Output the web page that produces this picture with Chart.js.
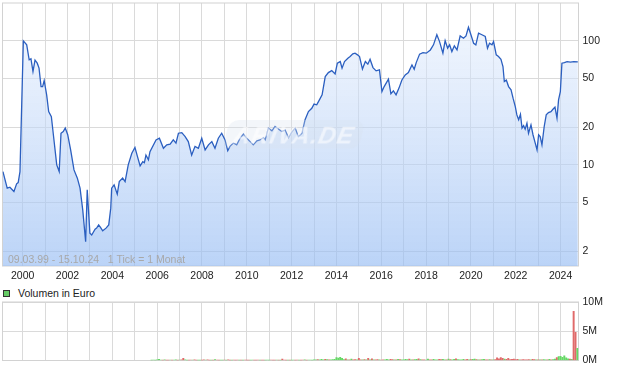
<!DOCTYPE html>
<html>
<head>
<meta charset="utf-8">
<script src="https://cdn.jsdelivr.net/npm/chart.js@4.4.1/dist/chart.umd.min.js"></script>
<style>
    body { margin: 0; background: #fff; font-family: Arial, "Liberation Sans", sans-serif; }
    #wrap { position: relative; width: 620px; height: 371px; overflow: hidden; }
    #kurs { position: absolute; left: 0; top: 0; }
    #vol { position: absolute; left: 0; top: 295px; }
    .range { position: absolute; left: 8px; top: 253px; font-size: 10.5px; line-height: 12px; color: #a8a8a8; white-space: pre; }
    .legend { position: absolute; left: 3px; top: 287px; font-size: 10.5px; line-height: 12px; color: #222; white-space: pre; }
    .legend span { display: inline-block; width: 5px; height: 5px; background: #66cc66; border: 1px solid #333; margin-right: 8px; vertical-align: 0px; }
    .wm { position: absolute; left: 226px; top: 120px; width: 136px; height: 29px; border-radius: 10px;
          background: rgba(215, 225, 240, 0.3); transform: skewX(-12deg);
          font: italic bold 24px Arial, "Liberation Sans", sans-serif; line-height: 29px; text-align: center;
          color: rgba(255, 255, 255, 0.55); letter-spacing: 1px; }
</style>
</head>
<body>
<div id="wrap">
    <canvas id="kurs" width="620" height="285"></canvas>
    <div class="wm">ARIVA.DE</div>
    <div class="range">09.03.99 - 15.10.24   1 Tick = 1 Monat</div>
    <div class="legend"><span></span>Volumen in Euro</div>
    <canvas id="vol" width="620" height="76"></canvas>
</div>
<script>
// Kursverlauf (Dezimaljahr / Kurs in Euro)
const priceYears = [
    1999.12, 1999.31, 1999.43, 1999.61, 1999.73, 1999.80, 1999.88,
    2000.03, 2000.18, 2000.29, 2000.37, 2000.46, 2000.55, 2000.65, 2000.73, 2000.82, 2000.89, 2000.96,
    2001.07, 2001.16, 2001.28, 2001.37, 2001.52, 2001.63, 2001.71, 2001.81, 2001.90,
    2002.01, 2002.14, 2002.29, 2002.44, 2002.56, 2002.68, 2002.81, 2002.88,
    2003.00, 2003.08, 2003.23, 2003.30, 2003.39, 2003.48, 2003.57, 2003.72, 2003.84, 2003.93, 2003.97,
    2004.08, 2004.22, 2004.31, 2004.46, 2004.57, 2004.71, 2004.87,
    2005.01, 2005.12, 2005.24, 2005.36, 2005.43, 2005.50, 2005.61, 2005.68, 2005.95,
    2006.10, 2006.28, 2006.43, 2006.58, 2006.72, 2006.84, 2006.95,
    2007.10, 2007.25, 2007.39, 2007.54, 2007.69, 2007.84, 2007.99,
    2008.14, 2008.29, 2008.44, 2008.58, 2008.73, 2008.88,
    2009.03, 2009.15, 2009.25, 2009.40, 2009.55, 2009.70, 2009.85,
    2010.00, 2010.15, 2010.29, 2010.45, 2010.59, 2010.74, 2010.82, 2010.96,
    2011.12, 2011.26, 2011.41, 2011.56, 2011.71, 2011.86,
    2012.01, 2012.16, 2012.30, 2012.46, 2012.60, 2012.75, 2012.90,
    2013.00, 2013.12, 2013.24, 2013.36, 2013.50, 2013.64, 2013.79, 2013.94,
    2014.04, 2014.17, 2014.25, 2014.36, 2014.51, 2014.61, 2014.73, 2014.83, 2014.94,
    2015.03, 2015.16, 2015.29, 2015.40, 2015.50, 2015.63, 2015.77, 2015.92,
    2016.03, 2016.13, 2016.32, 2016.43, 2016.54, 2016.66, 2016.79, 2016.92,
    2017.07, 2017.21, 2017.37, 2017.47, 2017.56, 2017.71, 2017.86,
    2018.01, 2018.19, 2018.33, 2018.48, 2018.60, 2018.75, 2018.85, 2018.96,
    2019.05, 2019.15, 2019.26, 2019.38, 2019.52, 2019.67, 2019.78, 2019.89,
    2020.00, 2020.12, 2020.22, 2020.34, 2020.49, 2020.64, 2020.74, 2020.83, 2020.94,
    2021.01, 2021.13, 2021.23, 2021.34, 2021.43, 2021.49, 2021.58, 2021.68, 2021.79, 2021.88, 2021.98,
    2022.05, 2022.13, 2022.21, 2022.28, 2022.35, 2022.42, 2022.50, 2022.57, 2022.68, 2022.77, 2022.87, 2022.95,
    2023.02, 2023.09, 2023.17, 2023.27, 2023.36, 2023.46, 2023.57, 2023.66, 2023.75, 2023.84, 2023.91, 2023.99,
    2024.06, 2024.17, 2024.29, 2024.44, 2024.59, 2024.77
];
const priceValues = [
    8.83, 6.49, 6.61, 6.10, 7.03, 7.20, 8.83,
    100, 92.9, 70.3, 71.6, 56.5, 69.9, 66.1, 60.3, 42.8, 42.8, 47.9,
    36.7, 26.9, 24.5, 17.5, 10.0, 8.83, 18.0, 18.6, 19.8,
    17.5, 13.2, 9.11, 7.82, 6.49, 4.34, 2.40, 6.29,
    2.81, 2.72, 3.03, 3.09, 3.28, 3.12, 2.94, 3.09, 3.28, 4.48, 6.49,
    6.90, 5.81, 7.33, 7.82, 7.33, 10.0, 12.4,
    13.8, 11.7, 9.82, 10.6, 10.4, 12.0, 11.0, 12.8, 15.9,
    16.4, 13.6, 14.5, 14.7, 15.9, 15.0, 18.0,
    18.2, 16.9, 15.4, 12.0, 14.1, 13.6, 16.4,
    13.2, 14.5, 15.4, 13.6, 16.4, 18.0,
    15.9, 13.0, 14.1, 15.0, 14.5, 16.4, 17.7,
    16.4, 15.4, 14.5, 15.6, 15.9, 16.6, 15.9, 19.8,
    18.8, 20.4, 19.5, 18.6, 19.1, 16.6,
    18.4, 19.8, 16.9, 18.0, 23.1, 26.9, 28.6,
    30.9, 30.5, 33.4, 36.7, 51.5, 55.5, 57.6, 54.2,
    66.1, 68.1, 60.3, 68.1, 72.4, 74.7, 78.5, 79.6, 77.1,
    74.7, 59.2, 68.1, 64.9, 71.1, 60.9, 57.3, 58.3,
    39.0, 42.8, 49.1, 37.4, 39.5, 36.7, 41.6, 48.4,
    53.2, 55.5, 64.0, 59.1, 66.8, 78.2, 80.5,
    79.6, 84.5, 92.9, 112, 98.6, 79.6, 100.5, 87.3,
    92.9, 82.0, 91.2, 84.5, 109.6, 105.1, 109.6, 128.8,
    112, 95.7, 92.9, 115.3, 112, 108.4, 87.3, 95.7, 92.9,
    98.6, 77.1, 74.7, 71.1, 62.1, 47.0, 48.4, 42.8, 40.3, 34.5, 29.5,
    25.3, 23.1, 25.6, 19.8, 20.7, 19.4, 21.7, 18.0, 21.0, 17.5, 15.0, 13.2,
    17.5, 16.9, 14.5, 20.4, 25.3, 26.4, 26.9, 28.1, 29.2, 23.8, 33.4, 39.0,
    66.1, 66.8, 68.1, 67.3, 68.1, 67.7
];

// Volumen in Mio. Euro, ein Wert pro Monat ab Okt. 2005
const volStart = 2005.75;
const volumes = [
    0.05, 0.08, 0.06,
    0.10, 0.18, 0.08, 0.06, 0.12, 0.07, 0.05, 0.09, 0.06, 0.08, 0.10, 0.07,
    0.08, 0.12, 0.35, 0.10, 0.07, 0.06, 0.09, 0.08, 0.12, 0.06, 0.05, 0.07,
    0.06, 0.10, 0.08, 0.12, 0.07, 0.05, 0.06, 0.14, 0.09, 0.06, 0.05, 0.07,
    0.08, 0.06, 0.10, 0.07, 0.05, 0.09, 0.06, 0.08, 0.07, 0.05, 0.06, 0.08,
    0.07, 0.06, 0.05, 0.08, 0.06, 0.07, 0.09, 0.06, 0.05, 0.07, 0.06, 0.08,
    0.06, 0.09, 0.07, 0.05, 0.08, 0.06, 0.07, 0.25, 0.08, 0.06, 0.05, 0.07,
    0.06, 0.08, 0.07, 0.09, 0.06, 0.05, 0.08, 0.10, 0.07, 0.09, 0.08, 0.06,
    0.10, 0.12, 0.15, 0.10, 0.20, 0.12, 0.18, 0.15, 0.12, 0.10, 0.15, 0.20,
    0.50, 0.40, 0.55, 0.35, 0.15, 0.30, 0.12, 0.10, 0.25, 0.12, 0.15, 0.10,
    0.35, 0.12, 0.10, 0.15, 0.12, 0.35, 0.10, 0.30, 0.12, 0.10, 0.15, 0.12,
    0.08, 0.12, 0.10, 0.18, 0.12, 0.20, 0.15, 0.10, 0.12, 0.18, 0.15, 0.10,
    0.12, 0.20, 0.15, 0.25, 0.12, 0.10, 0.15, 0.20, 0.30, 0.15, 0.10, 0.12,
    0.08, 0.25, 0.10, 0.12, 0.18, 0.10, 0.12, 0.20, 0.15, 0.22, 0.12, 0.10,
    0.25, 0.15, 0.10, 0.18, 0.30, 0.15, 0.12, 0.10, 0.20, 0.12, 0.18, 0.10,
    0.15, 0.20, 0.25, 0.15, 0.12, 0.10, 0.15, 0.20, 0.12, 0.10, 0.15, 0.12,
    0.10, 0.15, 0.45, 0.30, 0.50, 0.35, 0.25, 0.20, 0.35, 0.15, 0.20, 0.25,
    0.15, 0.20, 0.12, 0.10, 0.15, 0.12, 0.10, 0.15, 0.12, 0.20, 0.15, 0.12,
    0.10, 0.12, 0.10, 0.15, 0.12, 0.10, 0.20, 0.12, 0.15, 0.25, 0.50, 0.65,
    0.70, 0.55, 0.80, 0.45, 0.30, 0.25, 0.20, 8.40, 4.80, 2.10
];
// g = steigender Monat, r = fallender Monat
const volDir =
    "ggg" +
    "gggrgrrgrggr" + "grrggrrgrrgg" + "rrgrrgrgrrgg" + "rgrrgrrrgrgr" +
    "rrggrrrgrrgg" + "grrrgrgrrrgr" + "ggrrgrrgrggg" + "ggrgggrgrggg" +
    "gggggrgrgrrg" + "rrgrgrgrgrrg" + "rrgggrrgrgrg" + "gggrgrggrgrr" +
    "ggrrgggrrggr" + "grggrggggrrg" + "rggrgrggrrgr" + "grrrrrgrrrrr" +
    "rrgrrrrrgrrg" + "rgrggrgrggrg" + "gggggrgrrg";

const yearTicks = [2000, 2001, 2002, 2003, 2004, 2005, 2006, 2007, 2008, 2009, 2010, 2011, 2012,
                   2013, 2014, 2015, 2016, 2017, 2018, 2019, 2020, 2021, 2022, 2023, 2024];
const priceTicks = [2, 5, 10, 20, 50, 100];
const volTicks = [0, 5, 10];

const xMin = 1999.1, xMax = 2024.8;
const gridColor = '#dadada';
const tickFont = { family: 'Arial, "Liberation Sans", sans-serif', size: 10.5 };

const frame = {
    id: 'frame',
    beforeDatasetsDraw(chart) {
        const { ctx, chartArea: a } = chart;
        ctx.save();
        ctx.strokeStyle = '#d2d2d2';
        ctx.lineWidth = 1;
        ctx.strokeRect(a.left, a.top, a.right - a.left, a.bottom - a.top);
        ctx.restore();
    }
};

// keine automatischen Randabstaende durch Achsenbeschriftungen
function noPad(s) {
    s.paddingTop = 0;
    s.paddingBottom = 0;
    s.paddingLeft = 0;
    s.paddingRight = 0;
}

function fillGradient(context) {
    const { ctx, chartArea } = context.chart;
    if (!chartArea) return 'rgba(180,205,245,0.5)';
    const g = ctx.createLinearGradient(0, chartArea.top, 0, chartArea.bottom);
    g.addColorStop(0, 'rgba(232,240,253,0.5)');
    g.addColorStop(1, 'rgba(150,188,243,0.65)');
    return g;
}

new Chart(document.getElementById('kurs'), {
    type: 'line',
    data: {
        datasets: [{
            data: priceYears.map((x, i) => ({ x: x, y: priceValues[i] })),
            borderColor: '#2b5fc0',
            borderWidth: 1.3,
            pointRadius: 0,
            tension: 0,
            fill: 'start',
            backgroundColor: fillGradient
        }]
    },
    options: {
        responsive: false,
        animation: false,
        layout: { padding: { left: 2.5, top: 3, right: 0, bottom: 0 } },
        plugins: { legend: { display: false }, tooltip: { enabled: false } },
        scales: {
            x: {
                type: 'linear', min: xMin, max: xMax,
                afterBuildTicks: s => { s.ticks = yearTicks.map(v => ({ value: v })); },
                afterFit: s => { s.height = 19; noPad(s); },
                grid: { color: gridColor, drawTicks: false },
                border: { display: false },
                ticks: {
                    padding: 4, autoSkip: false, maxRotation: 0, color: '#222', font: tickFont,
                    callback: v => (v % 2 === 0 ? String(v) : '')
                }
            },
            y: {
                type: 'logarithmic', position: 'right', min: 1.53, max: 202,
                afterBuildTicks: s => { s.ticks = priceTicks.map(v => ({ value: v })); },
                afterFit: s => { s.width = 41.5; noPad(s); },
                grid: { color: gridColor, drawTicks: false },
                border: { display: false },
                ticks: { padding: 4, color: '#222', font: tickFont, callback: v => String(v) }
            }
        }
    },
    plugins: [frame]
});

new Chart(document.getElementById('vol'), {
    type: 'bar',
    data: {
        datasets: [{
            data: volumes.map((v, i) => ({ x: volStart + i / 12, y: v })),
            backgroundColor: volumes.map((v, i) => (volDir[i] === 'r' ? '#e06a6a' : '#66d866')),
            barThickness: 1.3,
            borderWidth: 0
        }]
    },
    options: {
        responsive: false,
        animation: false,
        layout: { padding: { left: 2.5, top: 7, right: 0, bottom: 0 } },
        plugins: { legend: { display: false }, tooltip: { enabled: false } },
        scales: {
            x: {
                type: 'linear', min: xMin, max: xMax, offset: false,
                afterBuildTicks: s => { s.ticks = yearTicks.map(v => ({ value: v })); },
                afterFit: s => { s.height = 10.5; noPad(s); },
                grid: { color: gridColor, drawTicks: false, offset: false },
                border: { display: false },
                ticks: { display: false }
            },
            y: {
                position: 'right', min: 0, max: 10,
                afterBuildTicks: s => { s.ticks = volTicks.map(v => ({ value: v })); },
                afterFit: s => { s.width = 41.5; noPad(s); },
                grid: { color: gridColor, drawTicks: false },
                border: { display: false },
                ticks: { padding: 4, color: '#222', font: tickFont, callback: v => v + 'M' }
            }
        }
    },
    plugins: [frame]
});
</script>
</body>
</html>
